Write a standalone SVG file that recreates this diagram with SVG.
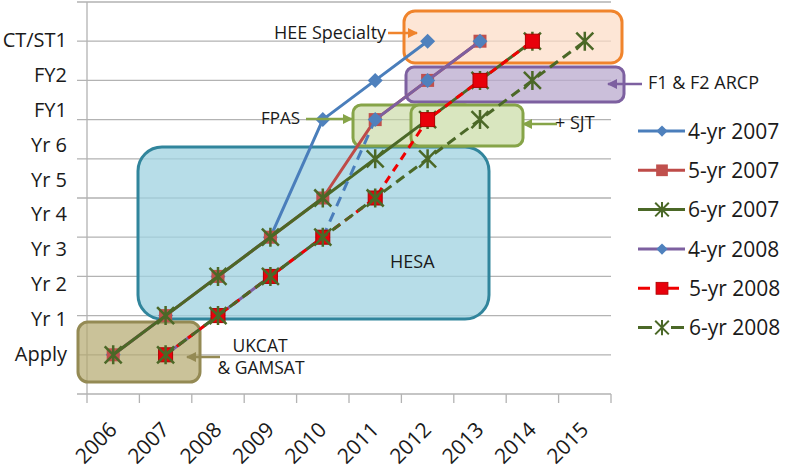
<svg xmlns="http://www.w3.org/2000/svg" width="787" height="472" viewBox="0 0 787 472">
<style>
text{font-family:"Open Sans","Noto Sans","DejaVu Sans",sans-serif;fill:#1a1a1a}
.ax{font-size:20px;text-anchor:end}
.xl{font-size:21px;text-anchor:end}
.ann{font-size:18px}
.lg{font-size:21px}
.grid{stroke:#b3b3b3;stroke-width:1.3;fill:none}
.box{stroke-width:3}
.ln{fill:none;stroke-width:3;stroke-linejoin:round}
.blue{stroke:#4a7ebb}
.red7{stroke:#be4b48}
.grn{stroke:#4b6827}
.pur{stroke:#7d60a0}
.red8{stroke:#f00000;stroke-dasharray:8 6}
.dash{stroke-dasharray:10 6}
.arr{stroke-width:2.5;fill:none}
</style>
<defs>
<path id="dia" d="M0,-7.5L7.5,0L0,7.5L-7.5,0Z" fill="#4f81bd"/>
<rect id="sq7" x="-6.5" y="-6.5" width="13" height="13" fill="#c0504d"/>
<rect id="sq8" x="-7" y="-7" width="14" height="14" fill="#e8000b" stroke="#b00000" stroke-width="1"/>
<path id="ast" d="M-8.5,-8.5L8.5,8.5M-8.5,8.5L8.5,-8.5M0,-9.5L0,9.5" stroke="#4b6827" stroke-width="2.5" fill="none"/>
<marker id="ah-o" viewBox="0 0 10 10" refX="9" refY="5" markerWidth="4" markerHeight="4" orient="auto"><path d="M0,0L10,5L0,10Z" fill="#f0842c"/></marker>
<marker id="ah-p" viewBox="0 0 10 10" refX="9" refY="5" markerWidth="4" markerHeight="4" orient="auto"><path d="M0,0L10,5L0,10Z" fill="#7d60a0"/></marker>
<marker id="ah-g" viewBox="0 0 10 10" refX="9" refY="5" markerWidth="4" markerHeight="4" orient="auto"><path d="M0,0L10,5L0,10Z" fill="#86a448"/></marker>
<marker id="ah-k" viewBox="0 0 10 10" refX="9" refY="5" markerWidth="4" markerHeight="4" orient="auto"><path d="M0,0L10,5L0,10Z" fill="#948a54"/></marker>
</defs>

<g id="axes">
<path class="grid" d="M77,2H611M77,41.2H611M77,80.4H611M77,119.6H611M77,158.8H611M77,198H611M77,237.2H611M77,276.4H611M77,315.6H611M77,354.8H611M77,394H611"/>
<path class="grid" d="M87,2V403M139.4,394V403M191.8,394V403M244.2,394V403M296.6,394V403M349,394V403M401.4,394V403M453.8,394V403M506.2,394V403M558.6,394V403M611,394V403"/>
<text class="ax" x="67" y="47">CT/ST1</text>
<text class="ax" x="67" y="82">FY2</text>
<text class="ax" x="67" y="117">FY1</text>
<text class="ax" x="67" y="152">Yr 6</text>
<text class="ax" x="67" y="187">Yr 5</text>
<text class="ax" x="67" y="221">Yr 4</text>
<text class="ax" x="67" y="256">Yr 3</text>
<text class="ax" x="67" y="291">Yr 2</text>
<text class="ax" x="67" y="326">Yr 1</text>
<text class="ax" x="67" y="361">Apply</text>
<text class="xl" x="118.2" y="431" transform="rotate(-45 118.2 431)">2006</text>
<text class="xl" x="170.6" y="431" transform="rotate(-45 170.6 431)">2007</text>
<text class="xl" x="223" y="431" transform="rotate(-45 223 431)">2008</text>
<text class="xl" x="275.4" y="431" transform="rotate(-45 275.4 431)">2009</text>
<text class="xl" x="327.8" y="431" transform="rotate(-45 327.8 431)">2010</text>
<text class="xl" x="380.2" y="431" transform="rotate(-45 380.2 431)">2011</text>
<text class="xl" x="432.6" y="431" transform="rotate(-45 432.6 431)">2012</text>
<text class="xl" x="485" y="431" transform="rotate(-45 485 431)">2013</text>
<text class="xl" x="537.4" y="431" transform="rotate(-45 537.4 431)">2014</text>
<text class="xl" x="589.8" y="431" transform="rotate(-45 589.8 431)">2015</text>
</g>

<g id="hesa">
<rect class="box" x="138" y="147" width="351" height="172" rx="24" fill="#9fd2e0" fill-opacity="0.75" stroke="#31859c"/>
<text class="ann" x="390" y="268">HESA</text>
</g>
<g id="ukcat">
<rect class="box" x="78" y="322" width="122" height="60" rx="10" fill="#b3a86e" fill-opacity="0.7" stroke="#948a54"/>
<text class="ann" text-anchor="middle" style="font-size:17.5px"><tspan x="260" y="352">UKCAT</tspan><tspan x="261" dy="22">&amp; GAMSAT</tspan></text>
</g>
<g id="hee">
<rect class="box" x="404" y="11" width="218" height="52" rx="11" fill="#fcdcc4" fill-opacity="0.7" stroke="#f0842c"/>
<text class="ann" x="274" y="39">HEE Specialty</text>
</g>
<g id="arcp">
<rect class="box" x="406" y="67" width="218" height="35" rx="8" fill="#b9a9cd" fill-opacity="0.75" stroke="#7d60a0"/>
<text class="ann" x="648" y="89">F1 &amp; F2 ARCP</text>
</g>
<g id="fpas">
<rect class="box" x="353" y="105" width="120" height="41" rx="8" fill="#c3d69b" fill-opacity="0.6" stroke="#86a448"/>
<text class="ann" x="300" y="124" text-anchor="end" style="font-size:17px">FPAS</text>
</g>
<g id="sjt">
<rect class="box" x="411" y="105" width="112" height="41" rx="8" fill="#d9e6bf" stroke="#86a448"/>
<text class="ann" x="555" y="129">+ SJT</text>
</g>

<g id="series">
<path class="ln blue" d="M113.2,354.8L165.6,315.6L218,276.4L270.4,237.2L322.8,119.6L375.2,80.4L427.6,41.2"/>
<use href="#dia" x="113.2" y="354.8"/><use href="#dia" x="165.6" y="315.6"/><use href="#dia" x="218" y="276.4"/><use href="#dia" x="270.4" y="237.2"/><use href="#dia" x="322.8" y="119.6"/><use href="#dia" x="375.2" y="80.4"/><use href="#dia" x="427.6" y="41.2"/>
<path class="ln red7" d="M113.2,354.8L165.6,315.6L218,276.4L270.4,237.2L322.8,198L375.2,119.6L427.6,80.4L480,41.2"/>
<use href="#sq7" x="113.2" y="354.8"/><use href="#sq7" x="165.6" y="315.6"/><use href="#sq7" x="218" y="276.4"/><use href="#sq7" x="270.4" y="237.2"/><use href="#sq7" x="322.8" y="198"/><use href="#sq7" x="375.2" y="119.6"/><use href="#sq7" x="427.6" y="80.4"/><use href="#sq7" x="480" y="41.2"/>
<path class="ln grn" d="M113.2,354.8L165.6,315.6L218,276.4L270.4,237.2L322.8,198L375.2,158.8L427.6,119.6L480,80.4L532.4,41.2"/>
<use href="#ast" x="113.2" y="354.8"/><use href="#ast" x="165.6" y="315.6"/><use href="#ast" x="218" y="276.4"/><use href="#ast" x="270.4" y="237.2"/><use href="#ast" x="322.8" y="198"/><use href="#ast" x="375.2" y="158.8"/><use href="#ast" x="427.6" y="119.6"/><use href="#ast" x="480" y="80.4"/><use href="#ast" x="532.4" y="41.2"/>
<path class="ln pur" d="M165.6,354.8L218,315.6L270.4,276.4L322.8,237.2"/>
<path class="ln blue" style="stroke-dasharray:10 7" d="M322.8,237.2L375.2,119.6"/>
<path class="ln pur" d="M375.2,119.6L427.6,80.4L480,41.2"/>
<use href="#dia" x="165.6" y="354.8"/><use href="#dia" x="218" y="315.6"/><use href="#dia" x="270.4" y="276.4"/><use href="#dia" x="322.8" y="237.2"/><use href="#dia" x="375.2" y="119.6"/><use href="#dia" x="427.6" y="80.4"/><use href="#dia" x="480" y="41.2"/>
<path class="ln red8" d="M165.6,354.8L218,315.6L270.4,276.4L322.8,237.2L375.2,198L427.6,119.6L480,80.4L532.4,41.2"/>
<use href="#sq8" x="165.6" y="354.8"/><use href="#sq8" x="218" y="315.6"/><use href="#sq8" x="270.4" y="276.4"/><use href="#sq8" x="322.8" y="237.2"/><use href="#sq8" x="375.2" y="198"/><use href="#sq8" x="427.6" y="119.6"/><use href="#sq8" x="480" y="80.4"/><use href="#sq8" x="532.4" y="41.2"/>
<path class="ln grn dash" d="M165.6,354.8L218,315.6L270.4,276.4L322.8,237.2L375.2,198L427.6,158.8L480,119.6L532.4,80.4L584.8,41.2"/>
<use href="#ast" x="165.6" y="354.8"/><use href="#ast" x="218" y="315.6"/><use href="#ast" x="270.4" y="276.4"/><use href="#ast" x="322.8" y="237.2"/><use href="#ast" x="375.2" y="198"/><use href="#ast" x="427.6" y="158.8"/><use href="#ast" x="480" y="119.6"/><use href="#ast" x="532.4" y="80.4"/><use href="#ast" x="584.8" y="41.2"/>
</g>

<g id="connectors">
<path class="arr" stroke="#f0842c" d="M388,33H417" marker-end="url(#ah-o)"/>
<path class="arr" stroke="#7d60a0" d="M642,84H608" marker-end="url(#ah-p)"/>
<path class="arr" stroke="#86a448" d="M306,119H352" marker-end="url(#ah-g)"/>
<path class="arr" stroke="#86a448" d="M557,124H523" marker-end="url(#ah-g)"/>
<path class="arr" stroke="#948a54" d="M220,357H187" marker-end="url(#ah-k)"/>
</g>

<g id="legend">
<path class="ln blue" d="M638,131H685"/><use href="#dia" transform="translate(662,131) scale(0.75)"/>
<text class="lg" x="688" y="138.5">4-yr 2007</text>
<path class="ln red7" d="M638,170.3H685"/><use href="#sq7" transform="translate(662,170.3) scale(0.9)"/>
<text class="lg" x="688" y="177.8">5-yr 2007</text>
<path class="ln grn" d="M638,209.6H685"/><use href="#ast" transform="translate(662,209.6) scale(0.8)"/>
<text class="lg" x="688" y="217.1">6-yr 2007</text>
<path class="ln pur" d="M638,249H685"/><use href="#dia" transform="translate(662,249) scale(0.75)"/>
<text class="lg" x="688" y="256.5">4-yr 2008</text>
<path class="ln" stroke="#f00000" d="M638,288.3H650M668,288.3H679"/><use href="#sq8" transform="translate(662,288.3) scale(0.85)"/>
<text class="lg" x="689" y="295.8">5-yr 2008</text>
<path class="ln grn" d="M638,327.6H652M671,327.6H684"/><use href="#ast" transform="translate(662,327.6) scale(0.8)"/>
<text class="lg" x="689" y="335.1">6-yr 2008</text>
</g>
</svg>
